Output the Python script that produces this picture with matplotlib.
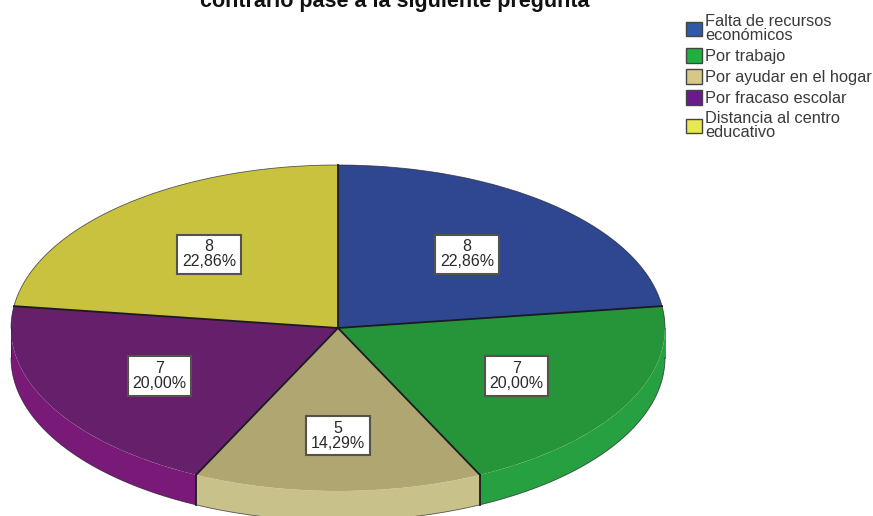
import numpy as np
import matplotlib
matplotlib.use('Agg')
import matplotlib.pyplot as plt
from matplotlib.patches import Patch, Polygon

plt.rcParams['font.family'] = ['Liberation Sans', 'DejaVu Sans']

categories = ['Falta de recursos\neconómicos', 'Por trabajo', 'Por ayudar en el hogar',
              'Por fracaso escolar', 'Distancia al centro\neducativo']
counts = [8, 7, 5, 7, 8]
percents = ['22,86%', '20,00%', '14,29%', '20,00%', '22,86%']
top_colors = ['#2f4790', '#26953a', '#b0a671', '#66206b', '#c9c23f']
side_colors = ['#33559f', '#26a040', '#c8c28a', '#7a1a78', '#dcd258']
legend_colors = ['#2f5aa8', '#20b040', '#d8c888', '#6a1a8a', '#e8e850']
label_r = [0.6, 0.62, 0.66, 0.62, 0.6]

W, H = 873, 516
cx, cy = 338, 328
rx, ry = 327, 163
depth = 30 / ry
dark = '#1a1a22'

fig = plt.figure(figsize=(W / 100, H / 100), dpi=100)
ax = fig.add_axes([0, 0, 1, 1])

wedges, _ = ax.pie(counts, colors=top_colors, startangle=90, counterclock=False,
                   wedgeprops=dict(edgecolor='none', zorder=3))
ax.set_aspect('auto')
ax.set_xlim(-cx / rx, (W - cx) / rx)
ax.set_ylim(-(H - cy) / ry, cy / ry)

fracs = np.array(counts) / sum(counts)
edges = np.concatenate([[0], np.cumsum(fracs)]) * 2 * np.pi

# side wall of the 3d pie, only the part facing front shows
for i in range(len(counts)):
    a = np.linspace(edges[i], edges[i + 1], 80)
    x, y = np.sin(a), np.cos(a)
    keep = (a > np.pi / 2) & (a < 3 * np.pi / 2)
    if keep.sum() < 2:
        continue
    upper = np.column_stack([x[keep], y[keep]])
    lower = np.column_stack([x[keep], y[keep] - depth])[::-1]
    ax.add_patch(Polygon(np.vstack([upper, lower]), closed=True, facecolor=side_colors[i],
                         edgecolor='none', zorder=2))

# slice borders on the top face and down the wall
for e in edges[:-1]:
    sx, sy = np.sin(e), np.cos(e)
    ax.plot([0, sx], [0, sy], color=dark, lw=1.3, zorder=4)
    if sy < 0:
        ax.plot([sx, sx], [sy, sy - depth], color=dark, lw=1.3, zorder=4)

# thin outer rim
t = np.linspace(-np.pi / 2, np.pi / 2, 200)
ax.plot(np.sin(t), np.cos(t), color=dark, lw=0.6, alpha=0.7, zorder=4)
t2 = np.linspace(np.pi / 2, 3 * np.pi / 2, 200)
ax.plot(np.sin(t2), np.cos(t2) - depth, color=dark, lw=0.6, alpha=0.7, zorder=4)
ax.plot([1, 1], [0, -depth], color=dark, lw=0.6, alpha=0.7, zorder=4)
ax.plot([-1, -1], [0, -depth], color=dark, lw=0.6, alpha=0.7, zorder=4)

# value labels in white boxes
for i in range(len(counts)):
    mid = (edges[i] + edges[i + 1]) / 2
    ax.text(label_r[i] * np.sin(mid), label_r[i] * np.cos(mid), f'{counts[i]}\n{percents[i]}',
            ha='center', va='center', fontsize=11.5, color='#2a2a2a', linespacing=1.0, zorder=5,
            bbox=dict(facecolor='white', edgecolor='#55524a', linewidth=1.5, boxstyle='square,pad=0.3'))

fig.text(395 / W, 1 - 7 / H, 'contrario pase a la siguiente pregunta', ha='center', va='baseline',
         fontsize=15.5, fontweight='bold', color='#111111')

handles = [Patch(facecolor=c, edgecolor='#444444', linewidth=1.0) for c in legend_colors]
ax.legend(handles, categories, loc='upper left', bbox_to_anchor=(686 / W, 1 - 14 / H),
          bbox_transform=fig.transFigure, frameon=False, fontsize=11.8, handlelength=1.0,
          handleheight=1.0, handletextpad=0.15, labelspacing=0.3, borderpad=0, borderaxespad=0,
          labelcolor='#3a3a3a')
for txt in ax.get_legend().get_texts():
    txt.set_linespacing(0.95)

fig.savefig('out.png', dpi=100)
